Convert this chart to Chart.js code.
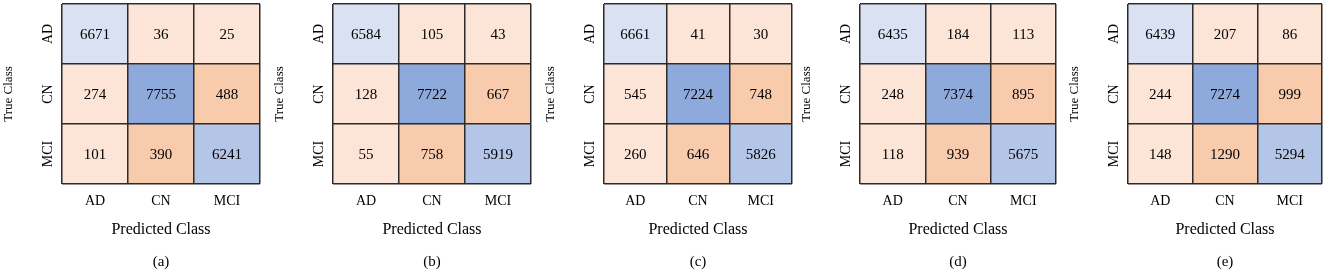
<!DOCTYPE html>
<html>
<head>
<meta charset="utf-8">
<script src="https://cdn.jsdelivr.net/npm/chart.js@4.4.1/dist/chart.umd.min.js"></script>
<style>
  html, body { margin: 0; padding: 0; background: #fff; }
  body { width: 1325px; height: 272px; position: relative; overflow: hidden; }
  canvas { position: absolute; top: 0; }
</style>
</head>
<body>
<script>
// ---- Data ----
const classes = ['AD', 'CN', 'MCI'];
const panelLabels = ['(a)', '(b)', '(c)', '(d)', '(e)'];
const xTitle = 'Predicted Class';
const yTitle = 'True Class';

const matrixA = [[6671, 36, 25], [274, 7755, 488], [101, 390, 6241]];
const matrixB = [[6584, 105, 43], [128, 7722, 667], [55, 758, 5919]];
const matrixC = [[6661, 41, 30], [545, 7224, 748], [260, 646, 5826]];
const matrixD = [[6435, 184, 113], [248, 7374, 895], [118, 939, 5675]];
const matrixE = [[6439, 207, 86], [244, 7274, 999], [148, 1290, 5294]];
const matrices = [matrixA, matrixB, matrixC, matrixD, matrixE];

// ---- Styles / layout ----
const BLUE_L = '#D9E1F2', BLUE_M = '#B4C6E7', BLUE_D = '#8EA9DB';
const PEACH_L = '#FCE4D6', PEACH_D = '#F8CBAD';
const cellPalette = [
  [BLUE_L, PEACH_L, PEACH_L],
  [PEACH_L, BLUE_D, PEACH_D],
  [PEACH_L, PEACH_D, BLUE_M]
];
const gridLayout = [ // [gridLeft, gridWidth]
  [62, 198], [333, 198], [604, 188], [860, 196], [1128, 194]
];
const Y_AXIS_W = 62, RIGHT_PAD = 3, TOP_PAD = 4, X_AXIS_H = 88, H = 272;
const FONT = "'Liberation Serif', 'Times New Roman', serif";
const LINE = '#2b2b2b';

Chart.defaults.font.family = FONT;
Chart.defaults.color = '#000';

const cellPlugin = {
  id: 'cellPlugin',
  afterDraw(chart, args, opts) {
    const ctx = chart.ctx;
    const ys = chart.scales.y, xs = chart.scales.x;
    ctx.save();
    // cell values
    ctx.font = '15px ' + FONT;
    ctx.fillStyle = '#000';
    ctx.textAlign = 'center';
    ctx.textBaseline = 'middle';
    chart.data.datasets.forEach((ds, r) => {
      const meta = chart.getDatasetMeta(r);
      meta.data.forEach((el, c) => {
        const p = el.getCenterPoint();
        ctx.fillText(String(ds.counts[c]), p.x, p.y + 1);
      });
    });
    // rotated y tick labels
    ctx.font = '14px ' + FONT;
    classes.forEach((lab, r) => {
      const y = ys.getPixelForValue(r + 0.5);
      ctx.save();
      ctx.translate(ys.right - 14, y);
      ctx.rotate(-Math.PI / 2);
      ctx.fillText(lab, 0, 0);
      ctx.restore();
    });
    // caption
    ctx.font = '15px ' + FONT;
    ctx.fillText(opts.caption, (xs.left + xs.right) / 2, 262);
    ctx.restore();
  }
};

matrices.forEach((m, k) => {
  const [gl, gw] = gridLayout[k];
  const cv = document.createElement('canvas');
  const W = Y_AXIS_W + gw + RIGHT_PAD;
  cv.width = W; cv.height = H;
  cv.style.left = (gl - Y_AXIS_W) + 'px';
  cv.style.width = W + 'px'; cv.style.height = H + 'px';
  document.body.appendChild(cv);

  const datasets = m.map((row, r) => ({
    label: classes[r],
    data: row.map(() => [r, r + 1]),
    counts: row,
    backgroundColor: cellPalette[r],
    borderWidth: 0,
    grouped: false,
    barPercentage: 1,
    categoryPercentage: 1
  }));

  new Chart(cv, {
    type: 'bar',
    data: { labels: classes, datasets },
    options: {
      responsive: false,
      animation: false,
      devicePixelRatio: 1,
      layout: { padding: { top: TOP_PAD, right: RIGHT_PAD, left: 0, bottom: 0 } },
      plugins: {
        legend: { display: false },
        tooltip: { enabled: false },
        cellPlugin: { caption: panelLabels[k] }
      },
      scales: {
        x: {
          type: 'category',
          offset: true,
          grid: { offset: true, drawTicks: false, color: LINE, lineWidth: 1.5, z: 1 },
          border: { display: false },
          ticks: { font: { size: 14, family: FONT }, color: '#000', padding: 9 },
          title: { display: true, text: xTitle, font: { size: 16, family: FONT }, color: '#000', padding: { top: 0, bottom: 33 } },
          afterFit(s) { s.height = X_AXIS_H; }
        },
        y: {
          type: 'linear',
          min: 0, max: 3, reverse: true,
          grid: { drawTicks: false, color: LINE, lineWidth: 1.5, z: 1 },
          border: { display: false },
          ticks: { display: false, stepSize: 1 },
          title: { display: true, text: yTitle, font: { size: 13, family: FONT }, color: '#000', padding: { top: 1, bottom: 0 } },
          afterFit(s) { s.width = Y_AXIS_W; }
        }
      }
    },
    plugins: [cellPlugin]
  });
});
</script>
</body>
</html>
